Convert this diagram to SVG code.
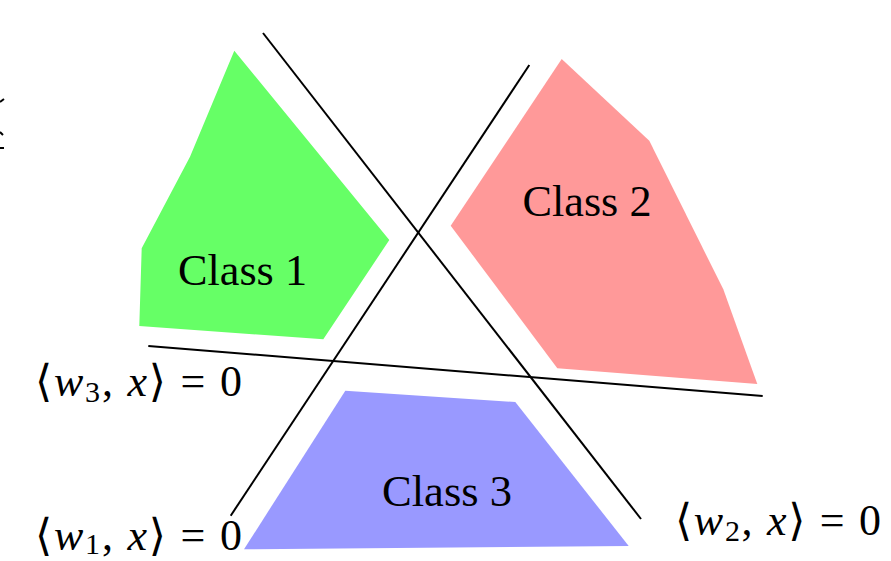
<svg xmlns="http://www.w3.org/2000/svg" width="891" height="561" viewBox="0 0 891 561">
<style>
  .lbl { font-family: "Liberation Serif", "DejaVu Serif", serif; font-size: 44px; fill: #000; }
  .math { font-family: "Liberation Serif", "DejaVu Serif", serif; font-size: 44px; fill: #000; }
  .it { font-style: italic; }
  .sub { font-size: 30px; }
  .sep { fill: none; stroke: #000; stroke-width: 2; }
</style>
<rect width="891" height="561" fill="#fff"/>
<g id="class1">
  <polygon points="234.3,50.7 389.3,240 323.3,339.3 139.3,326 141.7,248.3 190,156.7" fill="#66ff66"/>
  <text class="lbl" x="178" y="285" textLength="129" lengthAdjust="spacingAndGlyphs">Class 1</text>
</g>
<g id="class2">
  <polygon points="561.7,59 649.3,140.7 723.3,289.3 757.3,384 557.3,368.3 450.7,225.7" fill="#ff9999"/>
  <text class="lbl" x="522.5" y="215.5" textLength="129" lengthAdjust="spacingAndGlyphs">Class 2</text>
</g>
<g id="class3">
  <polygon points="345.3,390.7 515.3,402 628.7,546 244,549.3" fill="#9999ff"/>
  <text class="lbl" x="382" y="505.5" textLength="130" lengthAdjust="spacingAndGlyphs">Class 3</text>
</g>
<g id="connectors">
  <line class="sep" x1="263" y1="33" x2="641" y2="519"/>
  <line class="sep" x1="529.3" y1="65" x2="230.7" y2="515.7"/>
  <line class="sep" x1="148.3" y1="346" x2="762.7" y2="396"/>
</g>
<g id="labels">
  <text class="math" x="35" y="396" textLength="207" lengthAdjust="spacing">⟨<tspan class="it">w</tspan><tspan class="sub" dy="6">3</tspan><tspan dy="-6">, </tspan><tspan class="it">x</tspan>⟩ = 0</text>
  <text class="math" x="35" y="550" textLength="207" lengthAdjust="spacing">⟨<tspan class="it">w</tspan><tspan class="sub" dy="4">1</tspan><tspan dy="-4">, </tspan><tspan class="it">x</tspan>⟩ = 0</text>
  <text class="math" x="675" y="535" textLength="206" lengthAdjust="spacing">⟨<tspan class="it">w</tspan><tspan class="sub" dy="6">2</tspan><tspan dy="-6">, </tspan><tspan class="it">x</tspan>⟩ = 0</text>
</g>
<g id="edge-marks" stroke="#000" stroke-width="2">
  <line x1="0" y1="102" x2="4" y2="99"/>
  <line x1="0" y1="132" x2="3" y2="135"/>
  <line x1="0" y1="148" x2="4" y2="148"/>
</g>
</svg>
